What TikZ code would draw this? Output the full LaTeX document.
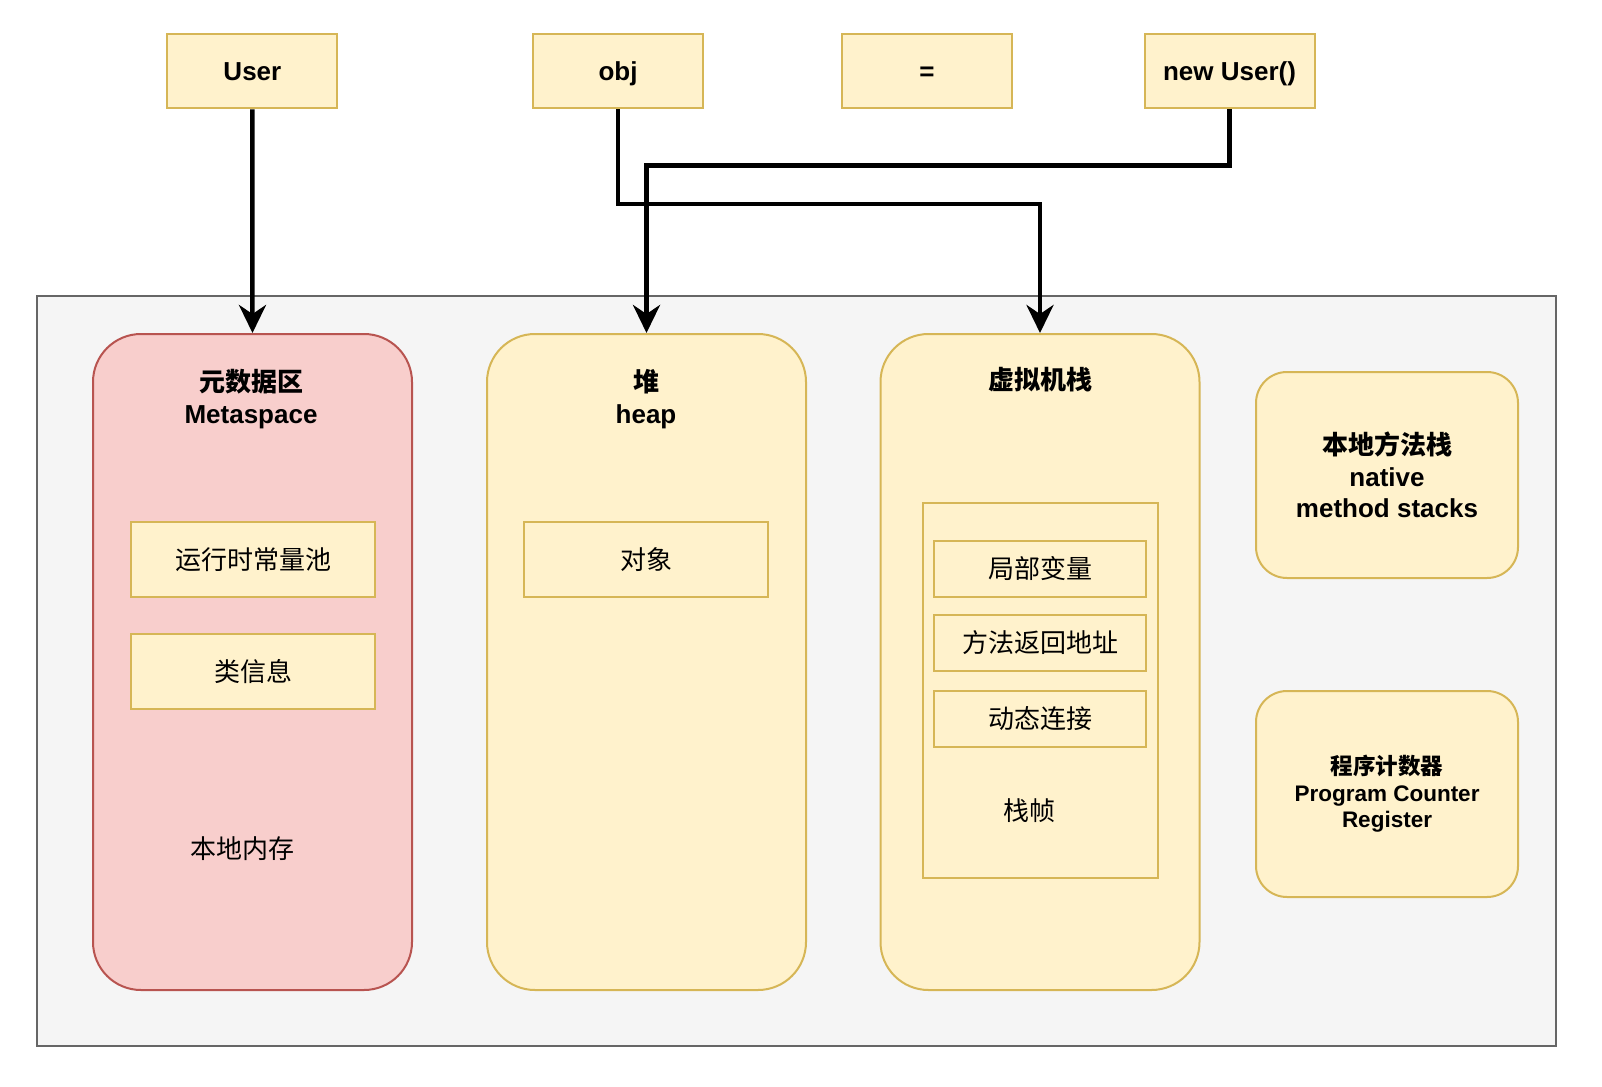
\documentclass[tikz,border=0pt]{standalone}
\usepackage{fontspec}
\setmainfont{Liberation Sans}
\newfontfamily\cjk{Noto Sans CJK SC}
\usetikzlibrary{arrows.meta}
\definecolor{yfill}{HTML}{FFF2CC}
\definecolor{ydraw}{HTML}{D6B656}
\definecolor{rfill}{HTML}{F8CECC}
\definecolor{rdraw}{HTML}{B85450}
\definecolor{gfill}{HTML}{F5F5F5}
\definecolor{gdraw}{HTML}{666666}
\tikzset{
  x=1pt,y=-1pt,
  ybox/.style={draw=ydraw,fill=yfill,line width=2pt,inner sep=0pt,minimum width=#1},
  topbox/.style={ybox=170pt,minimum height=74.6pt,text height=24pt,text depth=5.4pt,font=\fontsize{26}{31}\selectfont\bfseries},
  bigbox/.style={draw=#1,line width=2pt,inner sep=0pt,minimum width=319pt,minimum height=656pt,rounded corners=48pt},
  sidebox/.style={ybox=262pt,minimum height=206pt,rounded corners=31pt},
  txt/.style={inner sep=0pt,align=center,font=\fontsize{26}{31.5}\selectfont},
  conn/.style={line width=4.5pt,-{Stealth[length=28pt,width=27pt,inset=9pt]}},
}
\begin{document}
\begin{tikzpicture}
\useasboundingbox (0,0) rectangle (1602,1086);
% top
\node[topbox] (user) at (252.4,71) {User};
\node[topbox] (obj) at (618,71) {obj};
\node[topbox] (eq) at (927,71) {=};
\node[topbox] (newu) at (1229.5,71) {new User()};
% outer
\node[draw=gdraw,fill=gfill,line width=2pt,minimum width=1519pt,minimum height=750pt,inner sep=0pt] (jvm) at (796.4,671) {};
% big boxes
\node[bigbox=rdraw,fill=rfill] (meta) at (252.5,662) {};
\node[bigbox=ydraw,fill=yfill] (heap) at (646.5,662) {};
\node[bigbox=ydraw,fill=yfill] (vms) at (1040,662) {};
\node[txt] (metat) at (251,399) {{\cjk\bfseries 元数据区}\\\bfseries Metaspace};
\node[txt] (heapt) at (646,399) {{\cjk\bfseries 堆}\\\bfseries heap};
\node[txt] (vmst) at (1040,380) {\cjk\bfseries 虚拟机栈};
% metaspace inner
\node[ybox=244pt,minimum height=75pt,txt] (rcp) at (253,559.5) {\cjk 运行时常量池};
\node[ybox=244pt,minimum height=75pt,txt] (cls) at (253,671.5) {\cjk 类信息};
\node[txt] (native) at (242,849) {\cjk 本地内存};
% heap inner
\node[ybox=244pt,minimum height=75pt,txt] (objx) at (646,559.5) {\cjk 对象};
% vm stack inner
\node[ybox=235pt,minimum height=375pt] (frame) at (1040,690.5) {};
\node[ybox=212pt,minimum height=56.5pt,txt] (local) at (1040,569) {\cjk 局部变量};
\node[ybox=212pt,minimum height=56.5pt,txt] (ret) at (1040,643) {\cjk 方法返回地址};
\node[ybox=212pt,minimum height=56.5pt,txt] (dyn) at (1040,719) {\cjk 动态连接};
\node[txt] (framet) at (1029,811) {\cjk 栈帧};
% side boxes
\node[sidebox,txt] (nms) at (1387,475) {{\cjk\bfseries 本地方法栈}\\\bfseries native\\\bfseries method stacks};
\node[sidebox,txt,font=\fontsize{22.5}{26.5}\selectfont] (pc) at (1387,794) {{\cjk\bfseries 程序计数器}\\\bfseries Program Counter\\\bfseries Register};
% connectors
\draw[conn] (user.south) -- (meta.north);
\draw[conn] (newu.south) -- ++(0,56.2) -| (heap.north);
\draw[conn] (obj.south) -- ++(0,94.7) -| (vms.north);
\end{tikzpicture}
\end{document}
